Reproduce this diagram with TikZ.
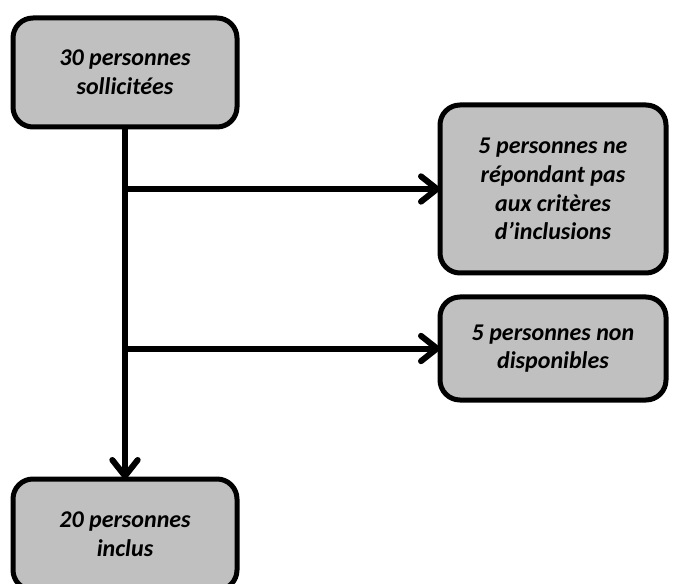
\documentclass[tikz,border=0pt]{standalone}
\usepackage{fontspec}
\setmainfont{Carlito}
\usetikzlibrary{arrows.meta}
\definecolor{boxgray}{HTML}{C0C0C0}
\tikzset{
  box/.style={draw=black, fill=boxgray, line width=3.75pt, rounded corners=15pt,
    align=center, font=\fontsize{18}{21.5}\selectfont\bfseries\itshape,
    inner sep=0pt, outer sep=0pt},
  arr/.style={line width=4.5pt, -{Straight Barb[length=12pt,width=19pt,round]}}
}
\begin{document}
\begin{tikzpicture}[x=0.75pt,y=-0.75pt]
\useasboundingbox (0,0) rectangle (674,584);
\clip (0,0) rectangle (674,584);
\node[box, minimum width=168pt, minimum height=81.75pt] (top) at (125,72.5) {30 personnes\\sollicitées};
\node[box, minimum width=169.5pt, minimum height=126pt] (r1) at (553,189) {5 personnes ne\\répondant pas\\aux critères\\d’inclusions};
\node[box, minimum width=169.5pt, minimum height=77.25pt] (r2) at (553,348.5) {5 personnes non\\disponibles};
\node[box, minimum width=168pt, minimum height=83.25pt] (bot) at (125,534.5) {20 personnes\\inclus};
\coordinate (j1) at (top.south |- r1.west);
\coordinate (j2) at (top.south |- r2.west);
\draw[arr] (top.south) -- (bot.north);
\draw[arr] (j1) -- (r1.west);
\draw[arr] (j2) -- (r2.west);
\end{tikzpicture}
\end{document}
